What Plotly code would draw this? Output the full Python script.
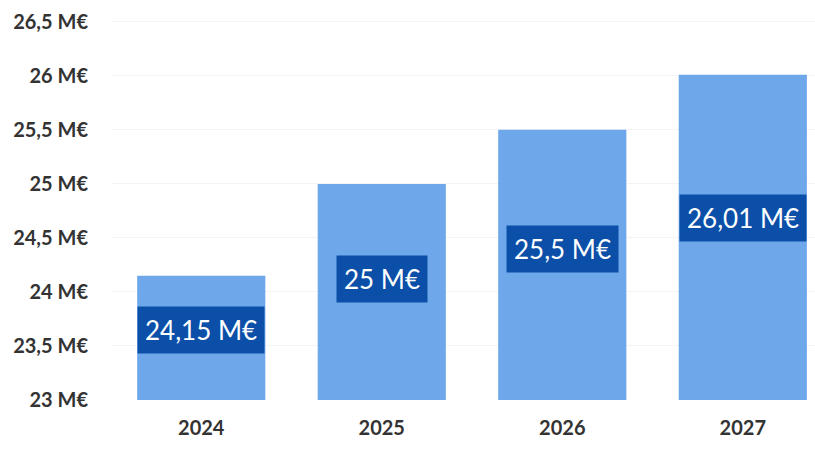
import plotly.graph_objects as go

# Yearly amounts in millions of euros
years = ["2024", "2025", "2026", "2027"]
amounts = [24.15, 25.0, 25.5, 26.01]
amount_labels = ["24,15 M€", "25 M€", "25,5 M€", "26,01 M€"]

tick_values = [23, 23.5, 24, 24.5, 25, 25.5, 26, 26.5]
tick_texts = ["23 M€", "23,5 M€", "24 M€", "24,5 M€", "25 M€", "25,5 M€", "26 M€", "26,5 M€"]

AXIS_BASE = 23
BAR_COLOR = "#6ea8ea"
BADGE_COLOR = "#0b4fa9"
TEXT_COLOR = "#333333"
FONT = "Lato, 'Open Sans', sans-serif"

fig = go.Figure(
    go.Bar(
        x=list(range(len(years))),
        y=[v - AXIS_BASE for v in amounts],
        base=AXIS_BASE,
        marker=dict(color=BAR_COLOR, line=dict(width=0)),
        hoverinfo="skip",
    )
)

# Value badges sit a little above the middle of each bar
for i, (v, label) in enumerate(zip(amounts, amount_labels)):
    fig.add_annotation(
        x=i,
        y=AXIS_BASE + 0.56 * (v - AXIS_BASE),
        text=label,
        showarrow=False,
        font=dict(family=FONT, size=26, color="white"),
        bgcolor=BADGE_COLOR,
        borderpad=7,
        xanchor="center",
        yanchor="middle",
    )

fig.update_layout(
    width=815,
    height=452,
    margin=dict(l=111, r=0, t=11, b=52),
    paper_bgcolor="white",
    plot_bgcolor="white",
    bargap=0.29,
    showlegend=False,
    font=dict(family=FONT, color=TEXT_COLOR),
    xaxis=dict(
        range=[-0.5, 3.4],
        tickmode="array",
        tickvals=list(range(len(years))),
        ticktext=years,
        tickfont=dict(family=FONT, size=20, color=TEXT_COLOR, weight="bold"),
        showgrid=False,
        zeroline=False,
        showline=False,
        ticks="",
        ticklabelstandoff=14,
        fixedrange=True,
    ),
    yaxis=dict(
        range=[23, 26.6],
        tickmode="array",
        tickvals=tick_values,
        ticktext=tick_texts,
        tickfont=dict(family=FONT, size=20, color=TEXT_COLOR, weight="bold"),
        showgrid=True,
        gridcolor="#f4f4f4",
        gridwidth=1,
        zeroline=False,
        showline=False,
        ticks="",
        ticklabelstandoff=22,
        fixedrange=True,
    ),
)

fig.write_html("out.html", config={"displayModeBar": False})
